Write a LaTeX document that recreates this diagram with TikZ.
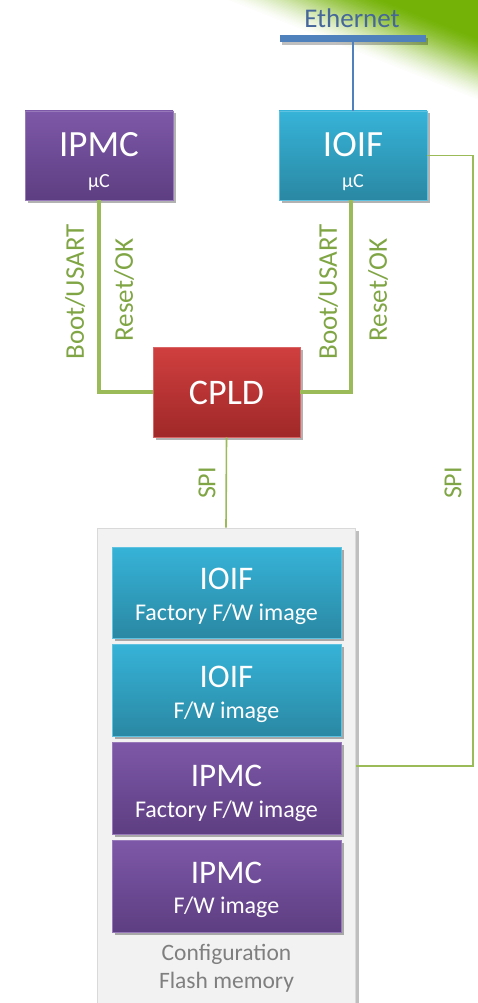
\documentclass[tikz,border=0pt]{standalone}
\usepackage{fontspec}
\setmainfont{Carlito}
\usetikzlibrary{shadows}
\definecolor{grn}{HTML}{9BBB59}
\definecolor{grntxt}{HTML}{7FA544}
\definecolor{swoosh}{HTML}{70B000}
\definecolor{purT}{HTML}{7D58A8}
\definecolor{purB}{HTML}{5E3E82}
\definecolor{cyaT}{HTML}{36B3D8}
\definecolor{cyaB}{HTML}{2A88A3}
\definecolor{redT}{HTML}{D03F3F}
\definecolor{redB}{HTML}{A02828}
\definecolor{ethblue}{HTML}{4F81BD}
\definecolor{ethtxt}{HTML}{45679A}
\definecolor{flashfill}{HTML}{F2F2F2}
\definecolor{flashdraw}{HTML}{D9D9D9}
\definecolor{cfgtxt}{HTML}{7F7F7F}
\begin{document}
\begin{tikzpicture}[x=1pt,y=-1pt,
  shad/.style={drop shadow={shadow xshift=2.5pt,shadow yshift=-2.5pt,opacity=0.3,fill=black}},
  basebox/.style={rectangle,inner sep=0pt,line width=0.8pt,shad},
  purbox/.style={basebox,top color=purT,bottom color=purB,draw=purT!80!white},
  cyabox/.style={basebox,top color=cyaT,bottom color=cyaB,draw=cyaT!80!white},
  redbox/.style={basebox,top color=redT,bottom color=redB,draw=redT!80!white},
  bigtxt/.style={text=white,anchor=base,inner sep=0pt,font=\fontsize{37}{37}\selectfont},
  midtxt/.style={text=white,anchor=base,inner sep=0pt,font=\fontsize{33}{33}\selectfont},
  subtxt/.style={text=white,anchor=base,inner sep=0pt,font=\fontsize{24}{24}\selectfont},
  mutxt/.style={text=white,anchor=base,inner sep=0pt,font=\fontsize{20}{20}\selectfont},
  lbl/.style={text=grntxt,rotate=90,inner sep=0pt,font=\fontsize{27}{27}\selectfont},
  thickg/.style={draw=grn,line width=4pt},
  thing/.style={draw=grn,line width=1.6pt},
]
\useasboundingbox (0,0) rectangle (478,1003);
\clip (0,0) rectangle (478,1003);
% green swoosh: nested half-planes, blended linear/smoothstep intensity
\foreach \i in {1,...,40}{
  \pgfmathsetmacro{\sa}{(\i-1)/40}
  \pgfmathsetmacro{\sb}{\i/40}
  \pgfmathsetmacro{\Ia}{0.97*(0.5*\sa+0.5*(3*\sa*\sa-2*\sa*\sa*\sa))}
  \pgfmathsetmacro{\Ib}{0.97*(0.5*\sb+0.5*(3*\sb*\sb-2*\sb*\sb*\sb))}
  \pgfmathsetmacro{\al}{(\Ib-\Ia)/(1-\Ia)}
  \pgfmathsetmacro{\dd}{58*\sa}
  \pgfmathsetmacro{\bx}{228+0.371*\dd}
  \pgfmathsetmacro{\by}{-0.928*\dd}
  \fill[swoosh,opacity=\al] (\bx-278.4,\by-111.3) -- (\bx+371.2,\by+148.4)
     -- (\bx+482.5,\by-130) -- (\bx-167.1,\by-389.7) -- cycle;
}
% Ethernet
\node[text=ethtxt,anchor=base,inner sep=0pt,font=\fontsize{27}{27}\selectfont] (ethtxt) at (352,28) {Ethernet};
\node[rectangle,fill=ethblue,minimum width=146pt,minimum height=7pt,inner sep=0pt,
  drop shadow={shadow xshift=2pt,shadow yshift=-3pt,opacity=0.25,fill=black}] (bar) at (353,38.5) {};
% top boxes
\node[purbox,minimum width=148pt,minimum height=89pt] (ipmc) at (99,155.5) {};
\node[bigtxt] (ipmct) at (99,157) {IPMC};
\node[mutxt] (ipmcmu) at (99,187) {µC};
\node[cyabox,minimum width=148pt,minimum height=89pt] (ioif) at (353,155.5) {};
\node[bigtxt] (ioift) at (353,157) {IOIF};
\node[mutxt] (ioifmu) at (353,187) {µC};
% CPLD
\node[redbox,minimum width=147pt,minimum height=90pt] (cpld) at (226.5,392) {};
\node[bigtxt,font=\fontsize{36}{36}\selectfont] (cpldt) at (226.5,404) {CPLD};
% flash
\node[rectangle,fill=flashfill,draw=flashdraw,line width=1pt,minimum width=258pt,minimum height=492pt,inner sep=0pt,
  drop shadow={shadow xshift=4pt,shadow yshift=-3pt,opacity=0.25,fill=black}] (flash) at (226,774) {};
\node[cyabox,minimum width=229pt,minimum height=91pt] (f1) at (226.5,592.5) {};
\node[midtxt] (f1a) at (226.5,589) {IOIF};
\node[subtxt] (f1b) at (226.5,620) {Factory F/W image};
\node[cyabox,minimum width=229pt,minimum height=92pt] (f2) at (226.5,690) {};
\node[midtxt] (f2a) at (226.5,687) {IOIF};
\node[subtxt] (f2b) at (226.5,718) {F/W image};
\node[purbox,minimum width=229pt,minimum height=92pt] (f3) at (226.5,788) {};
\node[midtxt] (f3a) at (226.5,786) {IPMC};
\node[subtxt] (f3b) at (226.5,817) {Factory F/W image};
\node[purbox,minimum width=229pt,minimum height=92pt] (f4) at (226.5,886) {};
\node[midtxt] (f4a) at (226.5,883) {IPMC};
\node[subtxt] (f4b) at (226.5,913) {F/W image};
\node[text=cfgtxt,anchor=base,inner sep=0pt,font=\fontsize{23.5}{23.5}\selectfont] (cfg1) at (226.5,960) {Configuration};
\node[text=cfgtxt,anchor=base,inner sep=0pt,font=\fontsize{23.5}{23.5}\selectfont] (cfg2) at (226.5,988) {Flash memory};
% connectors
\draw[draw=ethblue,line width=1.8pt] (bar.south) -- (ioif.north);
\draw[thickg] (ipmc.south) |- (cpld.west);
\draw[thickg] ([xshift=-2pt]ioif.south) |- (cpld.east);
\draw[thing] (cpld.south) -- (flash.north);
\coordinate (rtop) at (473,155.5);
\coordinate (rbot) at (473,766);
\draw[thing] (ioif.east) -- (rtop) -- (rbot) -- (rbot -| flash.east);
% labels
\node[lbl] (l1) at (75,292) {Boot/USART};
\node[lbl] (l2) at (124,290) {Reset/OK};
\node[lbl] (l3) at (328,292) {Boot/USART};
\node[lbl] (l4) at (378,290) {Reset/OK};
\node[lbl,font=\fontsize{26}{26}\selectfont] (l5) at (207,483) {SPI};
\node[lbl,font=\fontsize{26}{26}\selectfont] (l6) at (453,483) {SPI};
\end{tikzpicture}
\end{document}
